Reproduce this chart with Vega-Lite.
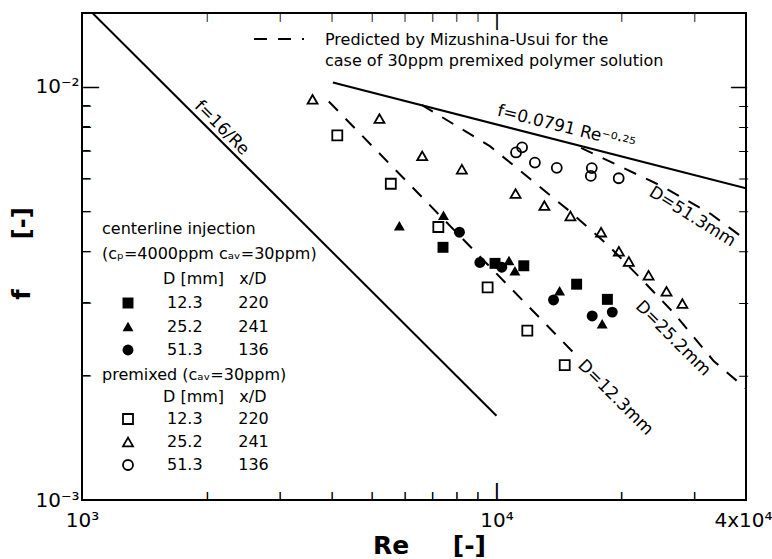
{
  "$schema": "https://vega.github.io/schema/vega-lite/v6.json",
  "width": 664,
  "height": 487,
  "autosize": "none",
  "padding": {"left": 82, "top": 13, "right": 26, "bottom": 59},
  "background": "white",
  "config": {
    "font": "DejaVu Sans",
    "view": {"stroke": "black", "strokeWidth": 2},
    "axis": {"grid": false, "domain": false, "ticks": false, "labelColor": "black", "titleColor": "black", "labelOverlap": false, "labelFlush": false},
    "legend": {"titleColor": "black", "labelColor": "black", "titleFontWeight": "normal", "titleFontSize": 16, "labelFontSize": 16, "padding": 0, "labelLimit": 600, "titleLimit": 600},
    "style": {"guide-label": {"lineHeight": 21}}
  },
  "datasets": {
    "points": [
      {"method": "centerline", "D": "12.3", "Re": 7430, "f": 0.00409},
      {"method": "centerline", "D": "12.3", "Re": 9920, "f": 0.00374},
      {"method": "centerline", "D": "12.3", "Re": 11640, "f": 0.00369},
      {"method": "centerline", "D": "12.3", "Re": 15610, "f": 0.00333},
      {"method": "centerline", "D": "12.3", "Re": 18520, "f": 0.00306},
      {"method": "centerline", "D": "25.2", "Re": 5830, "f": 0.00461},
      {"method": "centerline", "D": "25.2", "Re": 7450, "f": 0.00489},
      {"method": "centerline", "D": "25.2", "Re": 10720, "f": 0.0038},
      {"method": "centerline", "D": "25.2", "Re": 11080, "f": 0.00359},
      {"method": "centerline", "D": "25.2", "Re": 14200, "f": 0.00321},
      {"method": "centerline", "D": "25.2", "Re": 17990, "f": 0.00267},
      {"method": "centerline", "D": "51.3", "Re": 8140, "f": 0.00445},
      {"method": "centerline", "D": "51.3", "Re": 9120, "f": 0.00376},
      {"method": "centerline", "D": "51.3", "Re": 10300, "f": 0.00366},
      {"method": "centerline", "D": "51.3", "Re": 13730, "f": 0.00305},
      {"method": "centerline", "D": "51.3", "Re": 17020, "f": 0.00279},
      {"method": "centerline", "D": "51.3", "Re": 19030, "f": 0.00285},
      {"method": "premixed", "D": "12.3", "Re": 4130, "f": 0.00763},
      {"method": "premixed", "D": "12.3", "Re": 5560, "f": 0.00583},
      {"method": "premixed", "D": "12.3", "Re": 7240, "f": 0.00458},
      {"method": "premixed", "D": "12.3", "Re": 9520, "f": 0.00327},
      {"method": "premixed", "D": "12.3", "Re": 11870, "f": 0.00257},
      {"method": "premixed", "D": "12.3", "Re": 14610, "f": 0.00212},
      {"method": "premixed", "D": "25.2", "Re": 3600, "f": 0.00933},
      {"method": "premixed", "D": "25.2", "Re": 5220, "f": 0.00838},
      {"method": "premixed", "D": "25.2", "Re": 6620, "f": 0.00681},
      {"method": "premixed", "D": "25.2", "Re": 8250, "f": 0.00632},
      {"method": "premixed", "D": "25.2", "Re": 11120, "f": 0.00552},
      {"method": "premixed", "D": "25.2", "Re": 13050, "f": 0.00516},
      {"method": "premixed", "D": "25.2", "Re": 15080, "f": 0.00487},
      {"method": "premixed", "D": "25.2", "Re": 17880, "f": 0.00445},
      {"method": "premixed", "D": "25.2", "Re": 19740, "f": 0.004},
      {"method": "premixed", "D": "25.2", "Re": 20860, "f": 0.00378},
      {"method": "premixed", "D": "25.2", "Re": 23280, "f": 0.0035},
      {"method": "premixed", "D": "25.2", "Re": 25720, "f": 0.0032},
      {"method": "premixed", "D": "25.2", "Re": 28090, "f": 0.00299},
      {"method": "premixed", "D": "51.3", "Re": 11150, "f": 0.00694},
      {"method": "premixed", "D": "51.3", "Re": 11530, "f": 0.00714},
      {"method": "premixed", "D": "51.3", "Re": 12380, "f": 0.00656},
      {"method": "premixed", "D": "51.3", "Re": 13980, "f": 0.00637},
      {"method": "premixed", "D": "51.3", "Re": 16980, "f": 0.00636},
      {"method": "premixed", "D": "51.3", "Re": 16890, "f": 0.00609},
      {"method": "premixed", "D": "51.3", "Re": 19720, "f": 0.00601}
    ],
    "laminar": [
      {"Re": 1000, "f": 0.016},
      {"Re": 10000, "f": 0.0016}
    ],
    "blasius": [
      {"Re": 4030, "f": 0.01025},
      {"Re": 40000, "f": 0.00568}
    ],
    "predicted": [
      {"source": "Mizushina-Usui", "D": "12.3", "Re": 3940, "f": 0.00922},
      {"source": "Mizushina-Usui", "D": "12.3", "Re": 15370, "f": 0.00227},
      {"source": "Mizushina-Usui", "D": "25.2", "Re": 6600, "f": 0.00905},
      {"source": "Mizushina-Usui", "D": "25.2", "Re": 9660, "f": 0.00718},
      {"source": "Mizushina-Usui", "D": "25.2", "Re": 14990, "f": 0.00501},
      {"source": "Mizushina-Usui", "D": "25.2", "Re": 18670, "f": 0.00412},
      {"source": "Mizushina-Usui", "D": "25.2", "Re": 22030, "f": 0.00348},
      {"source": "Mizushina-Usui", "D": "25.2", "Re": 26840, "f": 0.00283},
      {"source": "Mizushina-Usui", "D": "25.2", "Re": 33430, "f": 0.00217},
      {"source": "Mizushina-Usui", "D": "25.2", "Re": 40000, "f": 0.00186},
      {"source": "Mizushina-Usui", "D": "51.3", "Re": 15990, "f": 0.00712},
      {"source": "Mizushina-Usui", "D": "51.3", "Re": 25160, "f": 0.00574},
      {"source": "Mizushina-Usui", "D": "51.3", "Re": 32850, "f": 0.00493},
      {"source": "Mizushina-Usui", "D": "51.3", "Re": 40000, "f": 0.00426}
    ],
    "notes": [
      {"label": "f=16/Re", "Re": 2173, "f": 0.00796},
      {"label": "D=12.3mm", "Re": 19360, "f": 0.00177},
      {"label": "D=25.2mm", "Re": 26660, "f": 0.00246},
      {"label": "D=51.3mm", "Re": 29670, "f": 0.00485},
      {"label": "f=0.0791 Re⁻⁰·²⁵", "Re": 14740, "f": 0.00796}
    ]
  },
  "layer": [
    {
      "data": {"name": "points"},
      "transform": [{"filter": "datum.method == 'centerline'"}],
      "mark": {"type": "point", "filled": true, "color": "black", "size": 120, "opacity": 1},
      "encoding": {
        "x": {"field": "Re", "type": "quantitative", "scale": {"type": "log", "domain": [1000, 40000], "nice": false},
          "axis": {"orient": "bottom", "values": [1000, 2000, 3000, 4000, 5000, 6000, 7000, 8000, 9000, 10000, 20000, 30000, 40000],
            "labelExpr": "datum.value == 1000 ? '10³' : datum.value == 10000 ? '10⁴' : datum.value == 40000 ? '4x10⁴' : '|'",
            "labelFontSize": {"condition": {"test": "datum.value != 1000 && datum.value != 10000 && datum.value != 40000", "value": 9}, "value": 20},
            "labelFontWeight": {"condition": {"test": "datum.value != 1000 && datum.value != 10000 && datum.value != 40000", "value": "bold"}, "value": "normal"},
            "labelPadding": {"condition": {"test": "datum.value != 1000 && datum.value != 10000 && datum.value != 40000", "value": -9}, "value": 10},
            "labelBaseline": "top",
            "labelOffset": {"condition": {"test": "datum.value > 30000", "value": -3}, "value": 0},
            "title": "Re\u00a0\u00a0\u00a0\u00a0\u00a0[-]", "titleFontSize": 25, "titleFontWeight": "bold", "titleX": 347, "titleY": 45, "titleBaseline": "middle", "titleAlign": "center"}},
        "y": {"field": "f", "type": "quantitative", "scale": {"type": "log", "domain": [0.001, 0.0151], "nice": false},
          "axis": {"orient": "left", "values": [0.001, 0.002, 0.003, 0.004, 0.005, 0.006, 0.007, 0.008, 0.009, 0.01],
            "labelExpr": "datum.value > 0.0095 ? '10⁻²' : datum.value < 0.0015 ? '10⁻³' : '—'",
            "labelFontSize": {"condition": {"test": "datum.value > 0.0015 && datum.value < 0.0095", "value": 8}, "value": 20},
            "labelFontWeight": {"condition": {"test": "datum.value > 0.0015 && datum.value < 0.0095", "value": "bold"}, "value": "normal"},
            "labelPadding": {"condition": {"test": "datum.value > 0.0015 && datum.value < 0.0095", "value": 0}, "value": 3},
            "labelAlign": {"condition": {"test": "datum.value > 0.0015 && datum.value < 0.0095", "value": "left"}, "value": "right"},
            "labelBaseline": "middle",
            "title": "f\u00a0\u00a0\u00a0\u00a0\u00a0\u00a0[-]", "titleFontSize": 24, "titleFontWeight": "bold", "titleX": -60, "titleY": 240, "titleBaseline": "middle", "titleAlign": "center"}},
        "shape": {"field": "D", "type": "nominal", "scale": {"domain": ["12.3", "25.2", "51.3"], "range": ["square", "triangle-up", "circle"]},
          "legend": {"orient": "none", "legendX": 20, "legendY": 208, "direction": "vertical",
            "title": ["centerline injection", "(cₚ=4000ppm  cₐᵥ=30ppm)", "\u200b\u00a0\u00a0\u00a0\u00a0\u00a0\u00a0\u00a0\u00a0\u00a0\u00a0\u00a0\u00a0D\u00a0[mm]\u00a0\u00a0\u00a0x/D"],
            "titleLineHeight": 25, "titlePadding": 8, "titleBaseline": "top",
            "labelExpr": "datum.label == '12.3' ? '12.3\u00a0\u00a0\u00a0\u00a0\u00a0\u00a0\u00a0220' : datum.label == '25.2' ? '25.2\u00a0\u00a0\u00a0\u00a0\u00a0\u00a0\u00a0241' : '51.3\u00a0\u00a0\u00a0\u00a0\u00a0\u00a0\u00a0136'",
            "symbolSize": 120, "symbolFillColor": "black", "symbolStrokeColor": "black", "symbolStrokeWidth": 0, "symbolOffset": 18, "labelOffset": 31, "rowPadding": 7.5}}
      }
    },
    {
      "data": {"name": "points"},
      "transform": [{"filter": "datum.method == 'premixed'"}],
      "mark": {"type": "point", "filled": false, "color": "black", "strokeWidth": 1.8, "size": 100, "opacity": 1},
      "encoding": {
        "x": {"field": "Re", "type": "quantitative", "scale": {"type": "log", "domain": [1000, 40000], "nice": false},
          "axis": {"orient": "bottom", "values": [2000, 3000, 4000, 5000, 6000, 7000, 8000, 9000, 10000, 20000, 30000], "title": null,
            "labelExpr": "'|'", "labelFontWeight": "bold", "labelBaseline": "top", "labelAlign": "center",
            "labelPadding": {"condition": {"test": "datum.value == 10000", "value": -17}, "value": -9},
            "labelFontSize": {"condition": {"test": "datum.value == 10000", "value": 17}, "value": 9}}},
        "y": {"field": "f", "type": "quantitative", "scale": {"type": "log", "domain": [0.001, 0.0151], "nice": false},
          "axis": {"orient": "left", "values": [0.002, 0.003, 0.004, 0.005, 0.006, 0.007, 0.008, 0.009, 0.01], "title": null,
            "labelExpr": "'|'", "labelFontWeight": "bold", "labelAngle": 270, "labelBaseline": "top", "labelAlign": "center", "labelPadding": 0,
            "labelFontSize": {"condition": {"test": "datum.value > 0.0095", "value": 15}, "value": 8}}},
        "shape": {"field": "D", "type": "nominal", "scale": {"domain": ["12.3", "25.2", "51.3"], "range": ["square", "triangle-up", "circle"]},
          "legend": {"orient": "none", "legendX": 20, "legendY": 354, "direction": "vertical",
            "title": ["premixed (cₐᵥ=30ppm)", "\u200b\u00a0\u00a0\u00a0\u00a0\u00a0\u00a0\u00a0\u00a0\u00a0\u00a0\u00a0\u00a0D\u00a0[mm]\u00a0\u00a0\u00a0x/D"],
            "titleLineHeight": 22, "titlePadding": 6, "titleBaseline": "top",
            "labelExpr": "datum.label == '12.3' ? '12.3\u00a0\u00a0\u00a0\u00a0\u00a0\u00a0\u00a0220' : datum.label == '25.2' ? '25.2\u00a0\u00a0\u00a0\u00a0\u00a0\u00a0\u00a0241' : '51.3\u00a0\u00a0\u00a0\u00a0\u00a0\u00a0\u00a0136'",
            "symbolSize": 100, "symbolFillColor": "white", "symbolStrokeColor": "black", "symbolStrokeWidth": 1.8, "symbolOffset": 18, "labelOffset": 31, "rowPadding": 6}}
      }
    },
    {
      "data": {"name": "laminar"},
      "mark": {"type": "line", "color": "black", "strokeWidth": 2, "clip": true},
      "encoding": {
        "x": {"field": "Re", "type": "quantitative", "scale": {"type": "log", "domain": [1000, 40000], "nice": false},
          "axis": {"orient": "top", "values": [2000, 3000, 4000, 5000, 6000, 7000, 8000, 9000, 10000, 20000, 30000], "title": null,
            "labelExpr": "'|'", "labelFontWeight": "bold", "labelBaseline": "top", "labelPadding": 0, "labelAlign": "center",
            "labelFontSize": {"condition": {"test": "datum.value == 10000", "value": 15}, "value": 8}}},
        "y": {"field": "f", "type": "quantitative", "scale": {"type": "log", "domain": [0.001, 0.0151], "nice": false},
          "axis": {"orient": "right", "values": [0.002, 0.003, 0.004, 0.005, 0.006, 0.007, 0.008, 0.009, 0.01], "title": null,
            "labelExpr": "'|'", "labelFontWeight": "bold", "labelAngle": 90, "labelBaseline": "top", "labelAlign": "center", "labelPadding": 0,
            "labelFontSize": {"condition": {"test": "datum.value > 0.0095", "value": 15}, "value": 8}}}
      }
    },
    {
      "data": {"name": "blasius"},
      "mark": {"type": "line", "color": "black", "strokeWidth": 2, "clip": true},
      "encoding": {
        "x": {"field": "Re", "type": "quantitative", "scale": {"type": "log", "domain": [1000, 40000], "nice": false}, "axis": null},
        "y": {"field": "f", "type": "quantitative", "scale": {"type": "log", "domain": [0.001, 0.0151], "nice": false}, "axis": null}
      }
    },
    {
      "data": {"name": "predicted"},
      "mark": {"type": "line", "color": "black", "strokeWidth": 2, "clip": true},
      "encoding": {
        "x": {"field": "Re", "type": "quantitative", "scale": {"type": "log", "domain": [1000, 40000], "nice": false}, "axis": null},
        "y": {"field": "f", "type": "quantitative", "scale": {"type": "log", "domain": [0.001, 0.0151], "nice": false}, "axis": null},
        "detail": {"field": "D", "type": "nominal"},
        "strokeDash": {"field": "source", "type": "nominal", "scale": {"domain": ["Mizushina-Usui"], "range": [[13, 11]]},
          "legend": {"orient": "none", "legendX": 171, "legendY": 0, "title": null,
            "symbolType": "stroke", "symbolSize": 2500, "symbolStrokeWidth": 2, "symbolStrokeColor": "black",
            "labelExpr": "['Predicted by Mizushina-Usui for the', 'case of 30ppm premixed polymer solution']",
            "labelOffset": 20, "labelBaseline": "top",
            "encode": {"symbols": {"update": {"strokeDash": {"value": [12, 7]}}}, "labels": {"update": {"dy": {"value": -7}}}}}}
      }
    },
    {
      "data": {"name": "notes"},
      "transform": [{"filter": "datum.label == 'f=16/Re' || datum.label == 'D=12.3mm' || datum.label == 'D=25.2mm'"}],
      "mark": {"type": "text", "angle": 45, "fontSize": 17, "color": "black", "align": "center", "baseline": "middle"},
      "encoding": {
        "x": {"field": "Re", "type": "quantitative", "scale": {"type": "log", "domain": [1000, 40000], "nice": false}, "axis": null},
        "y": {"field": "f", "type": "quantitative", "scale": {"type": "log", "domain": [0.001, 0.0151], "nice": false}, "axis": null},
        "text": {"field": "label"}
      }
    },
    {
      "data": {"name": "notes"},
      "transform": [{"filter": "datum.label == 'D=51.3mm'"}],
      "mark": {"type": "text", "angle": 32, "fontSize": 17, "color": "black", "align": "center", "baseline": "middle"},
      "encoding": {
        "x": {"field": "Re", "type": "quantitative", "scale": {"type": "log", "domain": [1000, 40000], "nice": false}, "axis": null},
        "y": {"field": "f", "type": "quantitative", "scale": {"type": "log", "domain": [0.001, 0.0151], "nice": false}, "axis": null},
        "text": {"field": "label"}
      }
    },
    {
      "data": {"name": "notes"},
      "transform": [{"filter": "indexof(datum.label, '0.0791') >= 0"}],
      "mark": {"type": "text", "angle": 14, "fontSize": 17, "color": "black", "align": "center", "baseline": "middle"},
      "encoding": {
        "x": {"field": "Re", "type": "quantitative", "scale": {"type": "log", "domain": [1000, 40000], "nice": false}, "axis": null},
        "y": {"field": "f", "type": "quantitative", "scale": {"type": "log", "domain": [0.001, 0.0151], "nice": false}, "axis": null},
        "text": {"field": "label"}
      }
    }
  ],
  "resolve": {
    "scale": {"x": "independent", "y": "independent", "shape": "independent"},
    "legend": {"shape": "independent"},
    "axis": {"x": "independent", "y": "independent"}
  }
}
